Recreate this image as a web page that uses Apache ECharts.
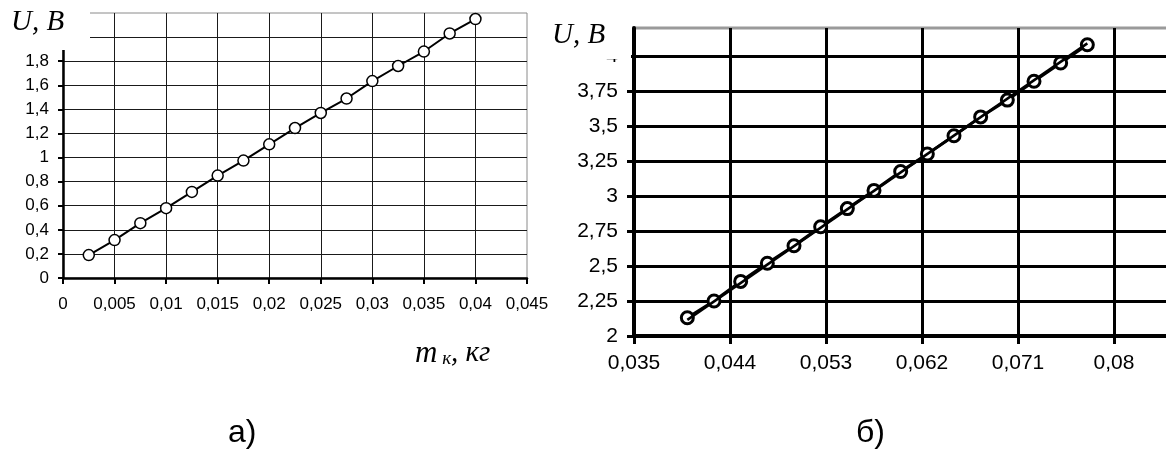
<!DOCTYPE html>
<html>
<head>
<meta charset="utf-8">
<script src="https://cdn.jsdelivr.net/npm/echarts@6/dist/echarts.min.js"></script>
<style>
html, body { margin: 0; padding: 0; background: #fff; }
#chart { width: 1166px; height: 455px; }
</style>
</head>
<body>
<div id="chart"></div>
<script>
// а) U от массы, малый диапазон
const massA = [0.0025, 0.005, 0.0075, 0.01, 0.0125, 0.015, 0.0175, 0.02,
  0.0225, 0.025, 0.0275, 0.03, 0.0325, 0.035, 0.0375, 0.04];
const voltA = [0.19, 0.315, 0.455, 0.58, 0.715, 0.85, 0.975, 1.11,
  1.245, 1.37, 1.49, 1.635, 1.76, 1.88, 2.03, 2.15];
const xLabelsA = ['0', '0,005', '0,01', '0,015', '0,02', '0,025', '0,03', '0,035', '0,04', '0,045'];
const yLabelsA = ['0', '0,2', '0,4', '0,6', '0,8', '1', '1,2', '1,4', '1,6', '1,8', '2', '2,2'];

// б) U от массы, большой диапазон
const massB = [0.04, 0.0425, 0.045, 0.0475, 0.05, 0.0525, 0.055, 0.0575,
  0.06, 0.0625, 0.065, 0.0675, 0.07, 0.0725, 0.075, 0.0775];
const voltB = [2.13, 2.25, 2.39, 2.52, 2.645, 2.78, 2.91, 3.04,
  3.175, 3.3, 3.43, 3.565, 3.685, 3.82, 3.95, 4.08];
// линия тренда (концы по рисунку)
const trendMassB = [0.04, 0.0775];
const trendVoltB = [2.115, 4.09];
const xLabelsB = ['0,035', '0,044', '0,053', '0,062', '0,071', '0,08', '0,089'];
const yLabelsB = ['2', '2,25', '2,5', '2,75', '3', '3,25', '3,5', '3,75', '4'];

const pairs = (xs, ys) => xs.map((x, i) => [x, ys[i]]);
const fromList = list => (v, i) => (list[i] !== undefined ? list[i] : '');

let chart = echarts.init(document.getElementById('chart'));
let option = {
  animation: false,
  grid: [
    { left: 63, top: 13, width: 464, height: 265, outerBoundsMode: 'none', containLabel: false,
      show: true, borderColor: '#8a8a8a', borderWidth: 1 },
    { left: 634, top: 28, width: 576, height: 308, outerBoundsMode: 'none', containLabel: false,
      show: true, borderColor: '#9a9a9a', borderWidth: 3 }
  ],
  xAxis: [
    {
      gridIndex: 0, type: 'value', min: 0, max: 0.045, interval: 0.005,
      axisLine: { onZero: false, lineStyle: { color: '#000', width: 2.5 } },
      axisTick: { show: true, length: 6, lineStyle: { color: '#000', width: 2 } },
      axisLabel: { formatter: fromList(xLabelsA), margin: 18, color: '#000', fontSize: 17, fontFamily: 'Liberation Sans' },
      splitLine: { show: true, showMinLine: false, showMaxLine: false, lineStyle: { color: '#1a1a1a', width: 1 } }
    },
    {
      gridIndex: 1, type: 'value', min: 0.035, max: 0.089, interval: 0.009,
      axisLine: { onZero: false, lineStyle: { color: '#000', width: 4 } },
      axisTick: { show: true, length: 8, lineStyle: { color: '#000', width: 3 } },
      axisLabel: { formatter: fromList(xLabelsB), margin: 17, color: '#000', fontSize: 21, fontFamily: 'Liberation Sans' },
      splitLine: { show: true, showMinLine: false, showMaxLine: false, lineStyle: { color: '#000', width: 3 } }
    }
  ],
  yAxis: [
    {
      gridIndex: 0, type: 'value', min: 0, max: 2.2, interval: 0.2,
      axisLine: { show: true, onZero: false, lineStyle: { color: '#000', width: 2.5 } },
      axisTick: { show: true, length: 5, lineStyle: { color: '#000', width: 2 } },
      axisLabel: { formatter: fromList(yLabelsA), margin: 14, color: '#000', fontSize: 17, fontFamily: 'Liberation Sans' },
      splitLine: { show: true, showMinLine: false, showMaxLine: false, lineStyle: { color: '#1a1a1a', width: 1 } }
    },
    {
      gridIndex: 1, type: 'value', min: 2, max: 4.2, interval: 0.25,
      axisLine: { show: true, onZero: false, lineStyle: { color: '#000', width: 4 } },
      axisTick: { show: true, length: 7, lineStyle: { color: '#000', width: 3 } },
      axisLabel: { formatter: fromList(yLabelsB), showMaxLabel: false, margin: 16, color: '#000', fontSize: 21, fontFamily: 'Liberation Sans' },
      splitLine: { show: true, showMinLine: false, showMaxLine: false, lineStyle: { color: '#000', width: 3 } }
    }
  ],
  series: [
    {
      type: 'line', xAxisIndex: 0, yAxisIndex: 0,
      data: pairs(massA, voltA),
      symbol: 'circle', symbolSize: 11,
      lineStyle: { color: '#000', width: 2 },
      itemStyle: { color: '#fff', borderColor: '#000', borderWidth: 1.5 },
      z: 3
    },
    {
      type: 'line', xAxisIndex: 1, yAxisIndex: 1,
      data: pairs(massB, voltB),
      symbol: 'circle', symbolSize: 12,
      lineStyle: { color: '#000', width: 3 },
      itemStyle: { color: '#fff', borderColor: '#000', borderWidth: 3 },
      z: 3
    },
    {
      type: 'line', xAxisIndex: 1, yAxisIndex: 1,
      data: pairs(trendMassB, trendVoltB),
      symbol: 'none',
      lineStyle: { color: '#000', width: 2.5 },
      z: 4
    }
  ],
  graphic: [
    { type: 'rect', z: 100, shape: { x: 0, y: 0, width: 90, height: 50 }, style: { fill: '#fff' } },
    { type: 'text', z: 101, left: 11, top: 8, style: { text: 'U, B', font: 'italic 29px "Liberation Serif"', fill: '#000' } },
    { type: 'rect', z: 100, shape: { x: 540, y: 0, width: 91, height: 59 }, style: { fill: '#fff' } },
    { type: 'text', z: 101, left: 552, top: 21, style: { text: 'U, B', font: 'italic 29px "Liberation Serif"', fill: '#000' } },
    {
      type: 'text', z: 101, left: 415, top: 338,
      style: {
        text: '{m|m}{s| к}{n|, кг}',
        rich: {
          m: { font: 'italic 31px "Liberation Serif"', fill: '#000' },
          s: { font: 'italic 19px "Liberation Serif"', fill: '#000', padding: [10, 0, 0, 0] },
          n: { font: 'italic 29px "Liberation Serif"', fill: '#000' }
        }
      }
    },
    { type: 'text', z: 101, left: 228, top: 417, style: { text: 'а)', font: '32px "Liberation Sans"', fill: '#000' } },
    { type: 'text', z: 101, left: 856, top: 417, style: { text: 'б)', font: '32px "Liberation Sans"', fill: '#000' } }
  ]
};
chart.setOption(option);
</script>
</body>
</html>
